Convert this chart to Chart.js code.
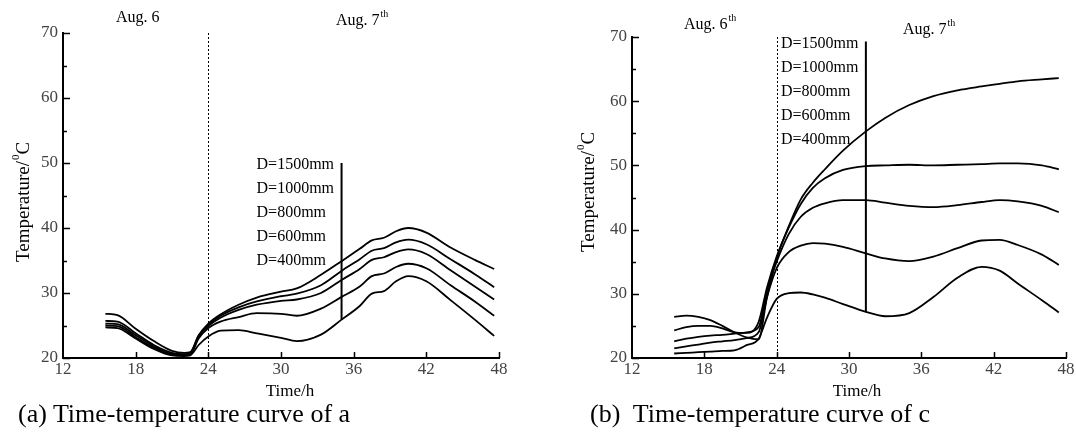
<!DOCTYPE html>
<html>
<head>
<meta charset="utf-8">
<script src="https://cdn.jsdelivr.net/npm/chart.js@4.4.1/dist/chart.umd.min.js"></script>
<style>
    body { margin: 0; background: #fff; width: 1076px; height: 438px; overflow: hidden; position: relative; font-family: "Liberation Serif", serif; }
    #chartA { position: absolute; left: 0; top: 0; }
    #chartB { position: absolute; left: 540px; top: 0; }
    .caption { position: absolute; top: 399px; font-size: 26px; line-height: 30px; color: #000; white-space: pre; }
</style>
</head>
<body>
<canvas id="chartA" width="540" height="400"></canvas>
<canvas id="chartB" width="536" height="400"></canvas>
<div class="caption" style="left:18px">(a) Time-temperature curve of a</div>
<div class="caption" style="left:590px">(b)  Time-temperature curve of c</div>
<script>
const hoursA = [15.5, 16.5, 18, 19.5, 21, 22, 22.5, 23.2, 24, 25, 26.5, 28, 30, 31.3, 33.3, 35, 36.5, 37.5, 38.5, 39.5, 40.5, 42, 44, 46, 47.6];
const hoursB = [15.5, 16.5, 17.5, 18.5, 19.5, 20.5, 21.5, 22.5, 23.2, 24, 25, 26, 27, 28, 29.5, 31.4, 33, 35, 37, 39, 41, 42.5, 44, 46, 47.4];

const diameters = ['D=1500mm', 'D=1000mm', 'D=800mm', 'D=600mm', 'D=400mm'];

// (a) temperatures, degrees C
const a1500 = [26.8, 26.6, 24.5, 22.6, 21.1, 20.8, 20.9, 23.5, 25.3, 26.7, 28.2, 29.3, 30.2, 30.7, 32.8, 34.9, 36.8, 38.1, 38.5, 39.5, 40.0, 39.3, 37.0, 35.1, 33.7];
const a1000 = [25.7, 25.6, 23.8, 22.0, 20.8, 20.6, 20.7, 23.4, 25.1, 26.5, 27.8, 28.7, 29.5, 29.9, 31.2, 33.4, 35.2, 36.5, 36.9, 37.8, 38.2, 37.5, 35.2, 32.9, 30.9];
const a800 = [25.3, 25.2, 23.5, 21.8, 20.6, 20.5, 20.6, 23.3, 24.9, 26.2, 27.4, 28.2, 28.8, 29.0, 30.0, 32.0, 33.7, 35.1, 35.5, 36.3, 36.7, 36.0, 33.5, 31.0, 29.0];
const a600 = [25.0, 24.9, 23.2, 21.6, 20.5, 20.4, 20.5, 23.0, 24.6, 25.6, 26.3, 26.9, 26.8, 26.5, 27.6, 29.4, 31.0, 32.6, 33.0, 34.0, 34.5, 33.8, 31.2, 28.7, 26.5];
const a400 = [24.7, 24.6, 23.0, 21.4, 20.4, 20.3, 20.4, 22.0, 23.3, 24.2, 24.3, 23.8, 23.1, 22.6, 23.6, 25.9, 28.0, 29.9, 30.3, 31.8, 32.6, 31.8, 28.9, 25.9, 23.4];

// (b) temperatures, degrees C
const b1500 = [26.4, 26.6, 26.4, 25.9, 25.0, 24.0, 23.2, 22.9, 29.5, 35.5, 40.5, 44.7, 47.3, 49.4, 52.3, 55.3, 57.4, 59.4, 60.8, 61.7, 62.3, 62.7, 63.1, 63.4, 63.6];
const b1000 = [24.3, 24.8, 25.0, 25.0, 24.6, 24.0, 23.9, 25.6, 31.0, 35.8, 40.3, 44.0, 46.5, 48.0, 49.3, 49.9, 50.0, 50.1, 50.0, 50.1, 50.2, 50.3, 50.3, 50.0, 49.4];
const b800 = [22.6, 23.0, 23.3, 23.5, 23.6, 23.8, 24.0, 24.8, 30.5, 35.0, 39.3, 42.0, 43.4, 44.1, 44.6, 44.6, 44.2, 43.7, 43.5, 43.8, 44.3, 44.6, 44.4, 43.7, 42.7];
const b600 = [21.5, 21.8, 22.1, 22.4, 22.6, 22.8, 23.1, 24.0, 29.5, 34.0, 36.5, 37.5, 37.9, 37.8, 37.3, 36.3, 35.5, 35.1, 35.8, 37.1, 38.3, 38.4, 37.6, 36.1, 34.5];
const b400 = [20.7, 20.8, 20.9, 21.0, 21.1, 21.2, 22.0, 23.0, 26.3, 29.2, 30.1, 30.2, 29.9, 29.4, 28.4, 27.2, 26.5, 27.0, 29.5, 32.5, 34.2, 33.6, 31.6, 29.0, 27.1];

const FONT = '"Liberation Serif", serif';
Chart.defaults.font.family = FONT;

function series(hours, values) {
    return hours.map((h, i) => ({ x: h, y: values[i] }));
}

// Draws base text with a raised small suffix; returns the full width.
function drawSup(ctx, x, y, base, sup, size) {
    ctx.font = size + 'px ' + FONT;
    ctx.fillText(base, x, y);
    const w = ctx.measureText(base).width;
    ctx.font = Math.round(size * 0.6) + 'px ' + FONT;
    ctx.fillText(sup, x + w + 1, y - size * 0.4);
    return w + 1 + ctx.measureText(sup).width;
}

/**
 * Axis ticks, day boundary, marker line with its labels and texts.
 * @param {object} cfg pixel spots for the texts, marker hour and span
 */
function figurePlugin(cfg) {
    return {
        id: 'figure',
        afterDraw(chart) {
            const { ctx, scales: { x, y } } = chart;
            const x0 = x.getPixelForValue(12);
            const yTop = y.getPixelForValue(70), yBot = y.getPixelForValue(20);
            ctx.save();
            ctx.strokeStyle = '#000';
            ctx.fillStyle = '#000';

            // ticks point into the plot
            ctx.lineWidth = 1.5;
            ctx.beginPath();
            for (let v = 20; v <= 70; v += 5) {
                const py = Math.round(y.getPixelForValue(v)) + 0.5;
                ctx.moveTo(x0, py);
                ctx.lineTo(x0 + (v % 10 === 0 ? 7 : 4), py);
            }
            for (let h = 18; h <= 48; h += 6) {
                const px = Math.round(x.getPixelForValue(h)) + 0.5;
                ctx.moveTo(px, yBot);
                ctx.lineTo(px, yBot - 6);
            }
            ctx.stroke();

            // dotted line between the two days
            const dx = Math.round(x.getPixelForValue(24)) + 0.5;
            ctx.lineWidth = 1;
            ctx.setLineDash([2, 2]);
            ctx.beginPath();
            ctx.moveTo(dx, yTop);
            ctx.lineTo(dx, yBot);
            ctx.stroke();
            ctx.setLineDash([]);

            // marker line
            const mx = x.getPixelForValue(cfg.markHour);
            const my = y.getPixelForValue(cfg.markTop);
            ctx.lineWidth = 2;
            ctx.beginPath();
            ctx.moveTo(mx, my);
            ctx.lineTo(mx, y.getPixelForValue(cfg.markBottom));
            ctx.stroke();

            ctx.textBaseline = 'middle';
            ctx.textAlign = 'left';
            ctx.font = '16px ' + FONT;
            diameters.forEach((t, i) => ctx.fillText(t, mx - 85, my + 2 + i * 24));

            // day labels
            cfg.days.forEach(d => drawSup(ctx, d.x, d.y, d.text, d.sup, 16));

            // axis titles
            ctx.font = '17px ' + FONT;
            ctx.textAlign = 'center';
            ctx.fillText('Time/h', cfg.timeX, 392);

            ctx.save();
            ctx.translate(cfg.tempX, cfg.tempY);
            ctx.rotate(-Math.PI / 2);
            ctx.textAlign = 'left';
            const w = drawSup(ctx, 0, 0, 'Temperature/', '0', 19);
            ctx.font = '19px ' + FONT;
            ctx.fillText('C', w, 0);
            ctx.restore();

            ctx.restore();
        }
    };
}

function makeChart(id, hours, rows, area, cfg) {
    const datasets = rows.map((vals, i) => ({
        label: diameters[i],
        data: series(hours, vals),
        borderColor: '#000',
        borderWidth: 1.8,
        pointRadius: 0,
        fill: false,
        cubicInterpolationMode: 'monotone'
    }));
    return new Chart(document.getElementById(id).getContext('2d'), {
        type: 'line',
        data: { datasets: datasets },
        options: {
            responsive: false,
            animation: false,
            events: [],
            layout: { padding: { left: 0, top: area.top, right: area.right, bottom: 0 } },
            plugins: { legend: { display: false }, tooltip: { enabled: false } },
            scales: {
                x: {
                    type: 'linear',
                    min: 12,
                    max: 48,
                    afterFit: s => { s.height = 400 - 358; },
                    grid: { display: false, drawTicks: false },
                    border: { display: true, color: '#000', width: 2 },
                    ticks: { stepSize: 6, padding: 1, color: '#444', font: { size: 17 } }
                },
                y: {
                    min: 20,
                    max: 70,
                    afterFit: s => { s.width = area.left; },
                    grid: { display: false, drawTicks: false },
                    border: { display: true, color: '#000', width: 2 },
                    ticks: { stepSize: 10, padding: 5, color: '#444', font: { size: 17 } }
                }
            }
        },
        plugins: [figurePlugin(cfg)]
    });
}

makeChart('chartA', hoursA, [a1500, a1000, a800, a600, a400],
    { left: 63, top: 33, right: 41 },
    {
        markHour: 35, markTop: 50, markBottom: a400[hoursA.indexOf(35)],
        days: [
            { x: 116, y: 18, text: 'Aug. 6', sup: '' },
            { x: 336, y: 21, text: 'Aug. 7', sup: 'th' }
        ],
        timeX: 290, tempX: 24, tempY: 262
    });

makeChart('chartB', hoursB, [b1500, b1000, b800, b600, b400],
    { left: 92, top: 37, right: 10 },
    {
        markHour: 31.4, markTop: 69.3, markBottom: b400[hoursB.indexOf(31.4)],
        days: [
            { x: 144, y: 25, text: 'Aug. 6', sup: 'th' },
            { x: 363, y: 30, text: 'Aug. 7', sup: 'th' }
        ],
        timeX: 317, tempX: 49, tempY: 252
    });
</script>
</body>
</html>
